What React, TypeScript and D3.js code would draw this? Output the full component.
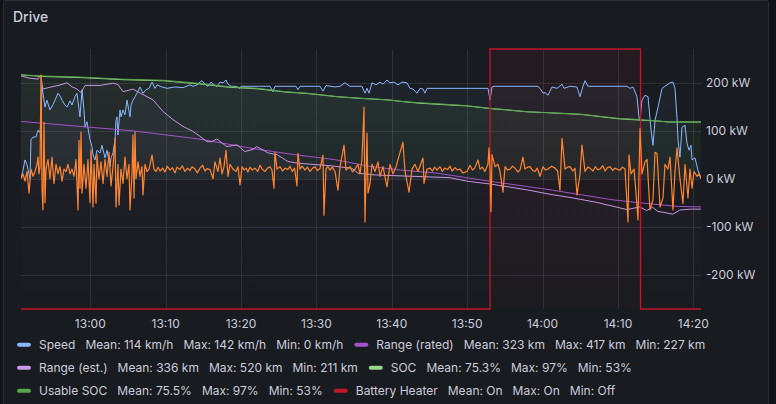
import { useMemo } from "react";
import * as d3 from "d3";

type Pt = [number, number]; // [minutes after 12:50, value]

// ---- data ----
const speedData: Pt[] = [
  [0.81, 1], [1.07, 12], [1.34, 27], [1.6, 20], [2.0, 0], [2.13, 56], [2.4, 60], [2.8, 60], [3.06, 70], [3.33, 66],
  [3.46, 84], [3.59, 132], [3.72, 123], [3.99, 103], [4.25, 113], [4.65, 99], [5.05, 107], [5.32, 113], [5.71, 123],
  [5.98, 119], [6.25, 113], [6.64, 106], [6.91, 103], [7.31, 112], [7.57, 106], [7.97, 118], [8.23, 123], [8.63, 89],
  [8.9, 128], [9.16, 99], [9.3, 74], [9.56, 82], [9.69, 73], [9.96, 56], [10.22, 46], [10.36, 34], [10.62, 27],
  [10.89, 41], [11.29, 37], [11.55, 48], [11.95, 30], [12.22, 41], [12.61, 17], [12.75, 30], [13.01, 37], [13.28, 56],
  [13.41, 84], [13.54, 89], [13.67, 63], [13.94, 99], [14.07, 89], [14.34, 99], [14.6, 92], [14.87, 113], [15.27, 89],
  [15.4, 106], [15.66, 113], [15.93, 118], [16.19, 123], [16.59, 132], [16.99, 123], [17.39, 128], [17.79, 130],
  [18.19, 139], [18.58, 130], [18.85, 135], [19.51, 132], [20.18, 130], [21.24, 132], [22.3, 131], [23.23, 135],
  [23.62, 133], [24.15, 135], [24.55, 139], [24.82, 141], [25.22, 136], [25.61, 133], [26.01, 139], [26.41, 135],
  [26.81, 133], [27.21, 139], [27.61, 138], [28.0, 142], [28.27, 136], [28.67, 133], [29.33, 133], [29.86, 130],
  [29.99, 133], [31.19, 133], [32.51, 133], [33.84, 133], [34.24, 125], [34.5, 133], [37.29, 133], [37.55, 128],
  [37.82, 133], [40.47, 133], [40.87, 126], [41.27, 134], [42.46, 132], [43.13, 133], [43.79, 138], [44.45, 133],
  [46.04, 133], [46.44, 123], [46.71, 130], [46.97, 123], [47.37, 138], [47.9, 135], [48.43, 139], [48.83, 136],
  [49.36, 142], [49.76, 138], [50.29, 139], [50.82, 135], [51.35, 139], [52.01, 138], [52.41, 130], [52.81, 129],
  [53.34, 123], [53.74, 130], [54.14, 129], [54.4, 123], [54.67, 130], [62.76, 130], [63.03, 113], [63.29, 132],
  [63.56, 133], [69.4, 133], [69.79, 128], [70.06, 123], [70.33, 124], [70.72, 120], [71.25, 132], [71.92, 130],
  [72.58, 136], [72.85, 130], [73.64, 133], [74.57, 132], [74.97, 118], [75.36, 133], [75.63, 141], [76.03, 133],
  [81.21, 133], [81.6, 130], [82.0, 132], [82.53, 118], [82.8, 87], [82.93, 84], [83.19, 113], [83.59, 120],
  [83.99, 118], [84.39, 70], [84.65, 48], [84.92, 84], [85.32, 103], [85.85, 130], [86.24, 133], [86.91, 138],
  [87.3, 139], [87.57, 130], [87.84, 87], [87.97, 56], [88.23, 31], [88.5, 74], [88.9, 77], [89.16, 51], [89.43, 41],
  [89.69, 48], [89.83, 27], [90.22, 30], [90.62, 12], [91.02, 1],
];

const rangeRatedData: Pt[] = [
  [0.81, 417], [8.63, 406], [15.66, 396], [24.4, 378], [31.84, 356], [37.16, 343], [42.47, 332], [47.1, 317],
  [51.1, 309], [56.0, 302], [63.0, 284], [71.0, 265], [79.2, 243], [82.9, 236], [88.0, 228], [91.02, 227],
];

const rangeEstData: Pt[] = [
  [0.81, 518], [2.0, 513], [3.06, 511], [3.4, 520], [3.72, 489], [4.65, 493], [5.98, 498], [6.91, 503], [7.57, 494],
  [8.24, 489], [8.77, 481], [9.3, 497], [11.29, 497], [13.0, 502], [13.67, 499], [14.34, 483], [15.66, 489],
  [16.73, 479], [17.52, 472], [18.32, 465], [19.65, 439], [20.97, 421], [22.3, 406], [23.6, 395], [24.55, 384],
  [25.48, 372], [26.1, 372], [26.8, 378], [28.1, 361], [29.46, 365], [30.5, 350], [31.6, 355], [32.1, 361],
  [33.6, 347], [34.8, 343], [36.2, 328], [37.6, 324], [41.5, 319], [44.7, 313], [45.5, 302], [47.8, 298],
  [57.7, 292], [60.0, 284], [63.0, 278], [67.9, 265], [71.0, 255], [74.0, 247], [77.2, 237], [81.2, 221],
  [82.9, 227], [83.8, 219], [84.6, 226], [85.3, 217], [87.3, 211], [88.2, 220], [89.6, 222], [91.02, 222],
];

const socData: Pt[] = [
  [0.81, 97], [3.59, 95.5], [8.63, 94.5], [14.34, 92.5], [19.65, 91.5], [24.55, 88.5], [28.3, 85.5], [32.2, 84],
  [35.8, 81], [38.9, 79.5], [40.9, 78], [42.9, 76.5], [46.0, 75], [49.7, 73.5], [51.5, 72], [53.7, 70.5],
  [57.3, 69], [60.0, 68], [63.0, 65.5], [64.8, 64.5], [67.9, 62.5], [71.0, 61.5], [75.2, 60], [80.0, 56],
  [82.3, 55], [84.9, 54], [86.7, 53], [91.02, 53],
];

const usableSocData: Pt[] = [
  [0.81, 97], [3.59, 96], [8.63, 95], [14.34, 93], [19.65, 92], [24.55, 89], [28.3, 86], [32.2, 84.5],
  [35.8, 81.3], [38.9, 79.8], [40.9, 78.2], [42.9, 76.6], [46.0, 75.1], [49.7, 73.6], [51.5, 72], [53.7, 71],
  [57.3, 69.5], [60.0, 68.2], [63.0, 65.8], [64.8, 64.8], [67.9, 62.6], [71.0, 61.7], [75.2, 60.2], [80.0, 56.4],
  [82.3, 55.5], [84.9, 54.2], [86.7, 53], [91.02, 53],
];

const heaterData: Pt[] = [[0.81, 0], [63.03, 1], [83.0, 0], [91.02, 0]];

const powerData: Pt[] = [
  [0.81, 0], [1.07, 10], [1.34, -5], [1.6, 15], [1.87, -30], [2.13, 20], [2.4, 5], [2.66, 15], [2.93, 30], [3.06, 45],
  [3.19, 10], [3.33, 25], [3.46, 216], [3.59, -20], [3.72, -65], [3.86, 118], [3.99, -50], [4.12, 20], [4.39, 40],
  [4.65, 0], [4.92, 45], [5.18, -10], [5.45, 30], [5.71, 10], [5.98, 25], [6.25, -5], [6.51, 20], [6.78, 15],
  [7.04, 30], [7.31, 10], [7.57, 20], [7.84, 5], [8.1, 40], [8.37, -65], [8.5, 80], [8.63, -20], [8.77, 97],
  [8.9, -30], [9.16, 30], [9.43, -20], [9.69, 40], [9.96, -50], [10.09, 60], [10.36, -59], [10.49, 30], [10.76, -51],
  [10.89, 50], [11.15, 0], [11.42, 35], [11.69, -10], [11.95, 40], [12.22, 5], [12.48, 55], [12.75, -15], [13.01, 25],
  [13.28, 84], [13.41, -59], [13.67, 30], [13.81, -55], [14.07, 20], [14.34, -10], [14.6, 45], [14.87, 0], [15.13, 30],
  [15.27, -65], [15.53, 10], [15.66, 91], [15.8, -40], [15.93, 97], [16.06, 0], [16.33, 35], [16.59, 5], [16.86, 25],
  [16.99, -34], [17.26, 30], [17.52, 15], [17.79, 20], [18.19, 49], [18.45, 20], [18.72, 15], [19.0, 24], [19.25, 16],
  [19.6, 22], [19.91, 14], [20.2, 26], [20.57, 18], [20.9, 23], [21.24, 12], [21.5, 24], [21.9, 19], [22.2, 27],
  [22.56, 15], [22.9, 22], [23.23, 17], [23.5, 25], [23.89, 20], [24.2, 12], [24.55, 22], [24.9, 28], [25.22, 16],
  [25.5, 21], [25.88, 19], [26.28, 0], [26.54, 35], [26.94, 15], [27.21, 43], [27.47, 10], [27.74, 25], [28.0, 59],
  [28.27, 5], [28.53, 30], [28.93, 20], [29.33, 15], [29.59, 25], [29.86, -13], [30.13, 25], [30.4, 18], [30.66, 22],
  [30.9, 14], [31.19, 24], [31.5, 18], [31.85, 22], [32.2, 15], [32.51, 28], [32.8, 20], [33.18, 15], [33.5, 22],
  [33.84, 25], [34.1, 18], [34.37, -20], [34.5, 55], [34.77, 20], [35.17, 25], [35.5, 16], [35.83, 22], [36.2, 19],
  [36.49, 26], [36.8, 15], [37.1, 22], [37.42, -15], [37.55, 53], [37.82, 20], [38.1, 26], [38.48, 18], [38.8, 24],
  [39.15, 15], [39.5, 22], [39.81, 25], [40.1, 17], [40.47, 21], [40.87, 49], [41.0, -76], [41.27, 20], [41.5, 26],
  [41.8, 18], [42.1, 24], [42.46, 15], [42.86, -24], [43.13, 25], [43.66, 70], [43.92, 18], [44.2, 22], [44.45, 25],
  [44.8, 14], [45.12, 20], [45.51, 30], [45.78, 10], [46.04, 40], [46.31, 149], [46.44, -90], [46.71, 95], [46.84, -30],
  [47.11, -10], [47.37, 30], [47.77, 15], [48.17, 35], [48.43, 5], [48.83, 25], [49.36, -17], [49.76, 30], [50.16, 10],
  [50.56, 25], [51.09, 55], [51.48, 76], [51.75, 15], [52.28, -28], [52.68, 20], [53.07, 30], [53.47, 15], [54.14, 43],
  [54.27, -10], [54.67, 20], [55.07, 22], [55.4, 16], [55.7, 24], [56.0, 18], [56.39, 25], [56.7, 15], [57.0, 22],
  [57.4, 19], [57.72, 26], [58.0, 16], [58.4, 23], [58.7, 18], [59.05, 20], [59.4, 12], [59.98, 15], [60.37, 28],
  [60.7, 18], [61.0, 22], [61.43, 39], [61.7, 20], [62.0, 24], [62.36, 15], [62.76, 30], [62.89, 64], [63.03, 20],
  [63.16, -69], [63.29, 50], [63.69, 25], [64.09, 30], [64.35, 15], [64.75, -28], [65.02, 25], [65.35, 18], [65.68, 20],
  [66.0, 26], [66.34, 22], [66.7, 14], [67.01, 18], [67.4, 45], [67.67, 20], [68.0, 24], [68.33, 25], [68.7, 17],
  [69.0, 15], [69.3, 22], [69.66, 5], [70.06, 25], [70.4, 18], [70.72, 20], [71.2, 26], [71.65, 22], [72.0, 16],
  [72.31, -24], [72.58, 84], [72.98, 20], [73.3, 24], [73.64, 25], [74.0, 16], [74.3, 22], [74.57, -34], [74.97, 10],
  [75.23, 70], [75.63, 15], [76.0, 24], [76.29, 22], [76.7, 16], [77.0, 25], [77.3, 19], [77.62, 20], [78.0, 27],
  [78.3, 16], [78.6, 23], [78.95, 25], [79.3, 17], [79.6, 22], [80.0, 19], [80.27, 18], [80.6, 24], [80.94, 20],
  [81.34, -90], [81.47, 49], [81.73, 10], [82.13, 20], [82.4, -30], [82.66, -86], [82.93, 105], [83.19, 10],
  [83.59, 35], [83.86, 40], [84.25, -65], [84.65, -44], [84.92, 55], [85.18, 53], [85.58, -59], [85.98, -40],
  [86.24, 30], [86.64, 20], [86.91, 45], [87.3, -65], [87.57, 15], [87.84, 64], [88.23, 0], [88.63, -52], [88.9, 30],
  [89.29, -40], [89.56, 20], [89.83, -20], [90.09, 15], [90.49, 5], [90.76, 10], [91.02, 0],
];

const powerTicks = [-200, -100, 0, 100, 200];

const legendNames = ["Speed", "Range (rated)", "Range (est.)", "SOC", "Usable SOC", "Battery Heater"];
const legendColors = ["#8AB8FF", "#A352CC", "#CA95E5", "#96D98D", "#56A64B", "#C4162A"];
const legendMean = ["114 km/h", "323 km", "336 km", "75.3%", "75.5%", "On"];
const legendMax = ["142 km/h", "417 km", "520 km", "97%", "97%", "On"];
const legendMin = ["0 km/h", "227 km", "211 km", "53%", "53%", "Off"];

const POWER_COLOR = "#FF8530";
const TEXT = "#ccccdc";
const FONT = "Inter, 'Open Sans', sans-serif";

const W = 776;
const H = 404;
const plot = { left: 21, right: 701, top: 49, bottom: 309 };

const base = new Date(2024, 0, 1, 12, 50, 0).getTime();
const toDate = (m: number) => new Date(base + m * 60000);

let measureCtx: CanvasRenderingContext2D | null = null;
function textWidth(s: string) {
  if (!measureCtx) {
    measureCtx = document.createElement("canvas").getContext("2d");
    if (measureCtx) measureCtx.font = `12px ${FONT}`;
  }
  return measureCtx ? measureCtx.measureText(s).width : s.length * 6.5;
}

export default function App() {
  const x = d3.scaleTime().domain([toDate(0.805), toDate(91.02)]).range([plot.left, plot.right]);
  // each series has its own hidden scale, like the panel
  const yPower = d3.scaleLinear().domain([-271.5, 270.2]).range([plot.bottom, plot.top]);
  const ySpeed = d3.scaleLinear().domain([-187.5, 186.6]).range([plot.bottom, plot.top]);
  const ySoc = d3.scaleLinear().domain([-121.8, 121.2]).range([plot.bottom, plot.top]);
  const yRange = d3.scaleLinear().domain([0, 578]).range([plot.bottom, plot.top]);
  const yHeater = d3.scaleLinear().domain([0, 1]).range([plot.bottom, plot.top]);

  const mkLine = (y: d3.ScaleLinear<number, number>, curve = d3.curveLinear) =>
    d3.line<Pt>().x((d) => x(toDate(d[0]))).y((d) => y(d[1])).curve(curve);
  const mkArea = (y: d3.ScaleLinear<number, number>, curve = d3.curveLinear) =>
    d3.area<Pt>().x((d) => x(toDate(d[0]))).y0(y(0)).y1((d) => y(d[1])).curve(curve);

  const series = [
    { data: speedData, y: ySpeed, color: legendColors[0], curve: d3.curveLinear, w: 1, op: [0.07, 0] },
    { data: rangeRatedData, y: yRange, color: legendColors[1], curve: d3.curveLinear, w: 1, op: [0.04, 0] },
    { data: rangeEstData, y: yRange, color: legendColors[2], curve: d3.curveLinear, w: 1, op: [0.04, 0] },
    { data: socData, y: ySoc, color: legendColors[3], curve: d3.curveLinear, w: 1, op: [0.04, 0] },
    { data: usableSocData, y: ySoc, color: legendColors[4], curve: d3.curveLinear, w: 1, op: [0.06, 0] },
    { data: heaterData, y: yHeater, color: legendColors[5], curve: d3.curveStepAfter, w: 1.3, op: [0.07, 0.02] },
  ];

  const timeTicks = x.ticks(d3.timeMinute.every(10)!);
  const fmt = d3.timeFormat("%H:%M");

  const legend = useMemo(() => {
    const items: { i: number; x: number; row: number; parts: { t: string; x: number }[] }[] = [];
    let cx = 17;
    let row = 0;
    const maxX = 760;
    legendNames.forEach((name, i) => {
      const texts = [name, `Mean: ${legendMean[i]}`, `Max: ${legendMax[i]}`, `Min: ${legendMin[i]}`];
      const widths = texts.map((t) => textWidth(t));
      let w = 14 + 8 + widths[0];
      widths.slice(1).forEach((tw) => (w += 10 + tw));
      if (cx + w > maxX && cx > 17) {
        row += 1;
        cx = 17;
      }
      const parts: { t: string; x: number }[] = [];
      let px = cx + 14 + 8;
      texts.forEach((t, k) => {
        if (k > 0) px += 10;
        parts.push({ t, x: px });
        px += widths[k];
      });
      items.push({ i, x: cx, row, parts });
      cx += w + 11;
    });
    return items;
  }, []);

  return (
    <div style={{ position: "fixed", left: 0, top: 0 }}>
      <svg width={W} height={H} style={{ display: "block", fontFamily: FONT }}>
        <defs>
          <clipPath id="plotClip">
            <rect x={plot.left} y={plot.top - 1} width={plot.right - plot.left} height={plot.bottom - plot.top + 2} />
          </clipPath>
          {series.map((s, i) => (
            <linearGradient key={i} id={`fill${i}`} gradientUnits="userSpaceOnUse" x1={0} x2={0} y1={plot.top} y2={plot.bottom}>
              <stop offset="0%" stopColor={s.color} stopOpacity={s.op[0]} />
              <stop offset="100%" stopColor={s.color} stopOpacity={s.op[1]} />
            </linearGradient>
          ))}
        </defs>
        <rect width={W} height={H} fill="#111217" />
        <rect x={3.5} y={0.5} width={765} height={420} rx={2} fill="#181b1f" stroke="#2a2d33" />
        <text x={13} y={22} fill={TEXT} fontSize={14} fontWeight={500}>
          Drive
        </text>

        {/* grid */}
        <g stroke="rgba(204,204,220,0.12)" strokeWidth={1}>
          {timeTicks.map((t) => (
            <line key={+t} x1={Math.round(x(t)) + 0.5} x2={Math.round(x(t)) + 0.5} y1={plot.top} y2={plot.bottom} />
          ))}
          {powerTicks.map((v) => (
            <line key={v} x1={plot.left} x2={plot.right} y1={Math.round(yPower(v)) + 0.5} y2={Math.round(yPower(v)) + 0.5} />
          ))}
        </g>

        <g clipPath="url(#plotClip)">
          {series.map((s, i) => (
            <path key={`a${i}`} d={mkArea(s.y, s.curve)(s.data) || ""} fill={`url(#fill${i})`} />
          ))}
          {series.map((s, i) => (
            <path key={`l${i}`} d={mkLine(s.y, s.curve)(s.data) || ""} fill="none" stroke={s.color} strokeWidth={s.w} />
          ))}
          <path d={mkLine(yPower)(powerData) || ""} fill="none" stroke={POWER_COLOR} strokeWidth={1.2} strokeLinejoin="round" />
        </g>

        {/* right axis */}
        {powerTicks.map((v) => (
          <text key={v} x={706} y={yPower(v)} dy="0.35em" fill={TEXT} fontSize={12}>
            {`${v} kW`}
          </text>
        ))}

        {/* time axis */}
        {timeTicks.map((t) => (
          <text key={+t} x={x(t)} y={324} dy="0.35em" textAnchor="middle" fill={TEXT} fontSize={12}>
            {fmt(t)}
          </text>
        ))}

        {/* legend */}
        {legend.map((it) => {
          const cy = 344.7 + it.row * 23;
          return (
            <g key={it.i}>
              <rect x={it.x} y={cy - 2} width={14} height={4} rx={2} fill={legendColors[it.i]} />
              {it.parts.map((p, k) => (
                <text key={k} x={p.x} y={cy} dy="0.35em" fill={TEXT} fontSize={12}>
                  {p.t}
                </text>
              ))}
            </g>
          );
        })}
      </svg>
    </div>
  );
}
